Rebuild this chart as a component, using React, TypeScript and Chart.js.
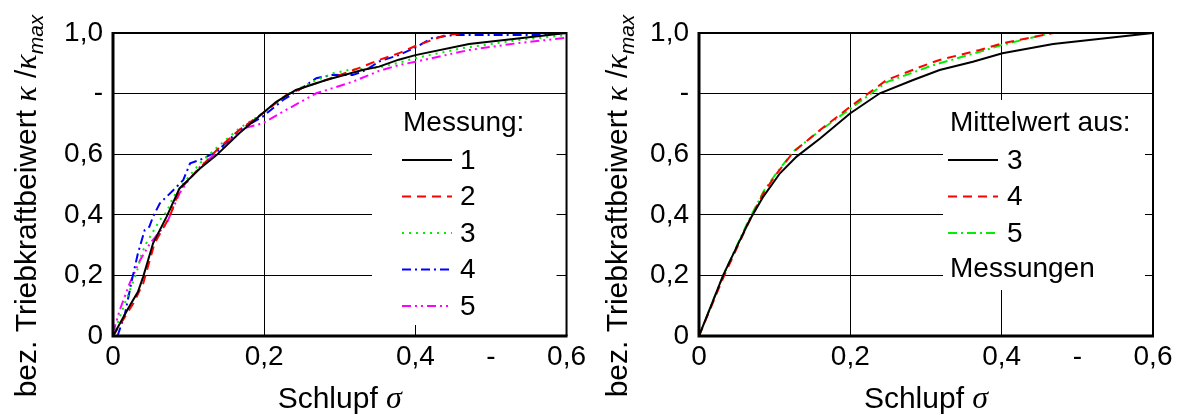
import React, { useEffect, useRef } from "react";
import { Chart, registerables } from "chart.js";

Chart.register(...registerables);

// ---------- data ----------
const X_TICKS = [0, 0.2, 0.4, 0.5, 0.6];
const X_TICK_LABELS = ["0", "0,2", "0,4", "-", "0,6"];
const Y_TICKS = [0, 0.2, 0.4, 0.6, 0.8, 1.0];
const Y_TICK_LABELS = ["0", "0,2", "0,4", "0,6", "-", "1,0"];

const X_TITLE = "Schlupf ";
const X_TITLE_SYM = "σ";
const Y_TITLE = "bez. Triebkraftbeiwert ";
const Y_TITLE_SYM = "κ";
const Y_TITLE_SUB = "max";

const LEFT_LEGEND_TITLE = "Messung:";
const LEFT_NAMES = ["1", "2", "3", "4", "5"];
const RIGHT_LEGEND_TITLE = "Mittelwert aus:";
const RIGHT_NAMES = ["3", "4", "5"];
const RIGHT_LEGEND_FOOTER = "Messungen";

// left chart: single measurements
const M1_X = [0, 0.020, 0.033, 0.040, 0.053, 0.071, 0.088, 0.104, 0.115, 0.137, 0.167, 0.198, 0.216, 0.242, 0.282, 0.330, 0.352, 0.378, 0.400, 0.471, 0.600];
const M1_Y = [0, 0.091, 0.146, 0.196, 0.306, 0.394, 0.487, 0.526, 0.553, 0.597, 0.669, 0.735, 0.773, 0.812, 0.845, 0.878, 0.889, 0.912, 0.927, 0.964, 1.0];

const M2_X = [0, 0.027, 0.040, 0.055, 0.075, 0.088, 0.104, 0.137, 0.167, 0.198, 0.229, 0.255, 0.282, 0.326, 0.352, 0.378, 0.400, 0.440, 0.466];
const M2_Y = [0, 0.108, 0.174, 0.306, 0.394, 0.482, 0.526, 0.613, 0.680, 0.735, 0.795, 0.823, 0.845, 0.885, 0.911, 0.933, 0.957, 0.993, 1.0];

const M3_X = [0, 0.014, 0.031, 0.038, 0.044, 0.062, 0.071, 0.080, 0.093, 0.115, 0.141, 0.167, 0.198, 0.229, 0.264, 0.291, 0.312, 0.352, 0.378, 0.400, 0.462, 0.537, 0.600];
const M3_Y = [0, 0.097, 0.207, 0.273, 0.306, 0.383, 0.410, 0.460, 0.504, 0.570, 0.630, 0.685, 0.735, 0.795, 0.839, 0.867, 0.878, 0.886, 0.902, 0.917, 0.950, 0.977, 0.993];

const M4_X = [0.006, 0.016, 0.025, 0.033, 0.042, 0.048, 0.053, 0.062, 0.080, 0.093, 0.102, 0.115, 0.137, 0.167, 0.198, 0.225, 0.246, 0.269, 0.291, 0.317, 0.335, 0.352, 0.378, 0.400, 0.422, 0.449, 0.559, 0.600];
const M4_Y = [0, 0.075, 0.185, 0.273, 0.350, 0.360, 0.394, 0.438, 0.482, 0.515, 0.570, 0.581, 0.608, 0.680, 0.724, 0.779, 0.812, 0.851, 0.862, 0.861, 0.878, 0.906, 0.927, 0.952, 0.983, 0.993, 0.993, 1.0];

const M5_X = [0, 0.009, 0.022, 0.036, 0.049, 0.071, 0.088, 0.097, 0.115, 0.141, 0.172, 0.198, 0.229, 0.269, 0.317, 0.352, 0.378, 0.400, 0.471, 0.537, 0.600];
const M5_Y = [0.01, 0.086, 0.174, 0.251, 0.306, 0.372, 0.471, 0.504, 0.559, 0.613, 0.685, 0.702, 0.746, 0.801, 0.839, 0.875, 0.894, 0.905, 0.944, 0.967, 0.984];

// right chart: mean values
const R3_X = [0, 0.019, 0.032, 0.050, 0.067, 0.085, 0.107, 0.129, 0.160, 0.200, 0.239, 0.283, 0.318, 0.362, 0.401, 0.468, 0.600];
const R3_Y = [0, 0.119, 0.201, 0.295, 0.383, 0.460, 0.537, 0.592, 0.652, 0.735, 0.801, 0.845, 0.878, 0.905, 0.933, 0.964, 1.0];

const R4_X = [0, 0.032, 0.063, 0.085, 0.103, 0.125, 0.160, 0.200, 0.248, 0.305, 0.318, 0.371, 0.401, 0.468];
const R4_Y = [0, 0.192, 0.361, 0.471, 0.537, 0.608, 0.680, 0.757, 0.845, 0.900, 0.911, 0.944, 0.966, 1.0];

const R5_X = [0, 0.032, 0.063, 0.085, 0.103, 0.125, 0.160, 0.200, 0.248, 0.305, 0.318, 0.371, 0.401, 0.465];
const R5_Y = [0, 0.200, 0.368, 0.476, 0.540, 0.610, 0.678, 0.750, 0.838, 0.890, 0.900, 0.938, 0.961, 1.0];

// ---------- styles ----------
const SANS = '"Liberation Sans", Arial, sans-serif';
const SERIF = '"Liberation Serif", "Times New Roman", serif';
const TICK_FONT = 28;
const TITLE_FONT = 30;
const LEGEND_FONT = 28;

type Style = { color: string; dash: number[] };
const S_SOLID: Style = { color: "#000000", dash: [] };
const S_RED: Style = { color: "#ff0000", dash: [9, 6] };
const S_GREEN_DOT: Style = { color: "#00ee00", dash: [2, 5] };
const S_BLUE: Style = { color: "#0000ff", dash: [9, 4, 2, 4] };
const S_MAG: Style = { color: "#ff00ff", dash: [9, 4, 2, 4, 2, 4] };
const S_GREEN_DD: Style = { color: "#00ee00", dash: [9, 4, 2, 4] };

function pts(xs: number[], ys: number[]) {
  return xs.map((x, i) => ({ x, y: ys[i] }));
}

function ds(label: string, xs: number[], ys: number[], s: Style) {
  return {
    label,
    data: pts(xs, ys),
    showLine: true,
    borderColor: s.color,
    backgroundColor: s.color,
    borderWidth: 2,
    borderDash: s.dash,
    pointRadius: 0,
    tension: 0,
    fill: false,
  };
}

type LegendCfg = {
  box: { l: number; t: number; r: number; b: number };
  titleX: number;
  titleY: number;
  rowY0: number;
  rowDy: number;
  lineX0: number;
  lineX1: number;
  numX: number;
  title: string;
  names: string[];
  styles: Style[];
  footer?: string;
};

function makeOverlay(titleX: number, legend: LegendCfg) {
  return {
    id: "overlay",
    afterDatasetsDraw(chart: any) {
      const { ctx, chartArea: a } = chart;
      ctx.save();
      const bx0 = a.left + legend.box.l;
      const by0 = a.top + legend.box.t;
      const bx1 = a.right - legend.box.r;
      const by1 = a.bottom - legend.box.b;
      ctx.fillStyle = "#ffffff";
      ctx.fillRect(bx0, by0, bx1 - bx0, by1 - by0);
      ctx.fillStyle = "#000000";
      ctx.textBaseline = "middle";
      ctx.textAlign = "left";
      ctx.font = `${LEGEND_FONT}px ${SANS}`;
      ctx.fillText(legend.title, a.left + legend.titleX, a.top + legend.titleY);
      legend.names.forEach((n, i) => {
        const y = a.top + legend.rowY0 + i * legend.rowDy;
        const st = legend.styles[i];
        ctx.beginPath();
        ctx.setLineDash(st.dash);
        ctx.strokeStyle = st.color;
        ctx.lineWidth = 2;
        ctx.moveTo(a.left + legend.lineX0, y);
        ctx.lineTo(a.left + legend.lineX1, y);
        ctx.stroke();
        ctx.setLineDash([]);
        ctx.fillStyle = "#000000";
        ctx.fillText(n, a.left + legend.numX, y + 1);
      });
      if (legend.footer) {
        const y = a.top + legend.rowY0 + legend.names.length * legend.rowDy;
        ctx.fillText(legend.footer, a.left + legend.titleX, y);
      }
      ctx.strokeStyle = "#000000";
      ctx.setLineDash([]);
      ctx.lineWidth = 2;
      ctx.beginPath();
      ctx.moveTo(a.left, a.top);
      ctx.lineTo(a.right, a.top);
      ctx.lineTo(a.right, a.bottom);
      ctx.stroke();
      ctx.lineWidth = 3;
      ctx.beginPath();
      ctx.moveTo(a.left, a.top - 1);
      ctx.lineTo(a.left, a.bottom);
      ctx.lineTo(a.right + 1, a.bottom);
      ctx.stroke();
      ctx.restore();
    },
    afterDraw(chart: any) {
      const { ctx, chartArea: a } = chart;
      ctx.save();
      ctx.fillStyle = "#000000";
      ctx.textBaseline = "alphabetic";
      const f1 = `${TITLE_FONT}px ${SANS}`;
      const f2 = `italic ${TITLE_FONT + 2}px ${SERIF}`;
      ctx.font = f1;
      const w1 = ctx.measureText(X_TITLE).width;
      ctx.font = f2;
      const w2 = ctx.measureText(X_TITLE_SYM).width;
      const x = (a.left + a.right) / 2 - (w1 + w2) / 2;
      const by = a.bottom + 72;
      ctx.font = f1;
      ctx.fillText(X_TITLE, x, by);
      ctx.font = f2;
      ctx.fillText(X_TITLE_SYM, x + w1, by);
      const segs = [
        { t: Y_TITLE, f: f1, dy: 0 },
        { t: Y_TITLE_SYM, f: f2, dy: 0 },
        { t: " /", f: f1, dy: 0 },
        { t: Y_TITLE_SYM, f: f2, dy: 0 },
        { t: Y_TITLE_SUB, f: `italic 21px ${SANS}`, dy: 7 },
      ];
      let total = 0;
      const ws = segs.map((s) => {
        ctx.font = s.f;
        const w = ctx.measureText(s.t).width;
        total += w;
        return w;
      });
      ctx.translate(titleX, 206);
      ctx.rotate(-Math.PI / 2);
      let cx = -total / 2;
      segs.forEach((s, i) => {
        ctx.font = s.f;
        ctx.fillText(s.t, cx, 11 + s.dy);
        cx += ws[i];
      });
      ctx.restore();
    },
  };
}

function makeConfig(datasets: any[], yWidth: number, padRight: number, titleX: number, legend: LegendCfg) {
  return {
    type: "scatter" as const,
    data: { datasets },
    options: {
      animation: false as const,
      responsive: false,
      devicePixelRatio: 1,
      layout: { padding: { left: 0, right: padRight, top: 33, bottom: 0 } },
      plugins: { legend: { display: false }, tooltip: { enabled: false }, title: { display: false } },
      scales: {
        x: {
          type: "linear" as const,
          min: 0,
          max: 0.6,
          afterBuildTicks: (s: any) => {
            s.ticks = X_TICKS.map((v) => ({ value: v }));
          },
          afterFit: (s: any) => {
            s.height = 79;
          },
          ticks: {
            autoSkip: false,
            maxRotation: 0,
            padding: 4,
            color: "#000000",
            font: { family: SANS, size: TICK_FONT },
            callback: (v: number) => {
              const i = X_TICKS.findIndex((t) => Math.abs(t - v) < 1e-9);
              return i >= 0 ? X_TICK_LABELS[i] : "";
            },
          },
          grid: {
            drawTicks: false,
            lineWidth: 1,
            color: (c: any) => (c.tick && Math.abs(c.tick.value - 0.5) < 1e-9 ? "rgba(0,0,0,0)" : "#000000"),
          },
          border: { display: false },
        },
        y: {
          type: "linear" as const,
          min: 0,
          max: 1.0,
          afterBuildTicks: (s: any) => {
            s.ticks = Y_TICKS.map((v) => ({ value: v }));
          },
          afterFit: (s: any) => {
            s.width = yWidth;
          },
          ticks: {
            autoSkip: false,
            padding: 10,
            color: "#000000",
            font: { family: SANS, size: TICK_FONT },
            callback: (v: number) => {
              const i = Y_TICKS.findIndex((t) => Math.abs(t - v) < 1e-9);
              return i >= 0 ? Y_TICK_LABELS[i] : "";
            },
          },
          grid: { drawTicks: false, lineWidth: 1, color: "#000000" },
          border: { display: false },
        },
      },
    },
    plugins: [makeOverlay(titleX, legend)],
  };
}

function ChartCanvas({ config }: { config: () => any }) {
  const ref = useRef<HTMLCanvasElement | null>(null);
  useEffect(() => {
    if (!ref.current) return;
    const chart = new Chart(ref.current, config());
    return () => chart.destroy();
  }, []);
  return <canvas ref={ref} width={590} height={415} style={{ display: "block", width: 590, height: 415 }} />;
}

export default function App() {
  const leftCfg = () =>
    makeConfig(
      [
        ds(LEFT_NAMES[0], M1_X, M1_Y, S_SOLID),
        ds(LEFT_NAMES[1], M2_X, M2_Y, S_RED),
        ds(LEFT_NAMES[2], M3_X, M3_Y, S_GREEN_DOT),
        ds(LEFT_NAMES[3], M4_X, M4_Y, S_BLUE),
        ds(LEFT_NAMES[4], M5_X, M5_Y, S_MAG),
      ],
      113,
      22,
      25,
      {
        box: { l: 259, t: 67, r: 10, b: 11 },
        titleX: 290,
        titleY: 90,
        rowY0: 127,
        rowDy: 36.5,
        lineX0: 289,
        lineX1: 339,
        numX: 347,
        title: LEFT_LEGEND_TITLE,
        names: LEFT_NAMES,
        styles: [S_SOLID, S_RED, S_GREEN_DOT, S_BLUE, S_MAG],
      }
    );
  const rightCfg = () =>
    makeConfig(
      [
        ds(RIGHT_NAMES[0], R3_X, R3_Y, S_SOLID),
        ds(RIGHT_NAMES[1], R4_X, R4_Y, S_RED),
        ds(RIGHT_NAMES[2], R5_X, R5_Y, S_GREEN_DD),
      ],
      109,
      27,
      26,
      {
        box: { l: 244, t: 67, r: 8, b: 46 },
        titleX: 251,
        titleY: 90,
        rowY0: 127,
        rowDy: 36.5,
        lineX0: 249,
        lineX1: 299,
        numX: 308,
        title: RIGHT_LEGEND_TITLE,
        names: RIGHT_NAMES,
        styles: [S_SOLID, S_RED, S_GREEN_DD],
        footer: RIGHT_LEGEND_FOOTER,
      }
    );
  return (
    <div style={{ position: "fixed", left: 0, top: 0, width: 1180, height: 415, background: "#ffffff", display: "flex" }}>
      <ChartCanvas config={leftCfg} />
      <ChartCanvas config={rightCfg} />
    </div>
  );
}
